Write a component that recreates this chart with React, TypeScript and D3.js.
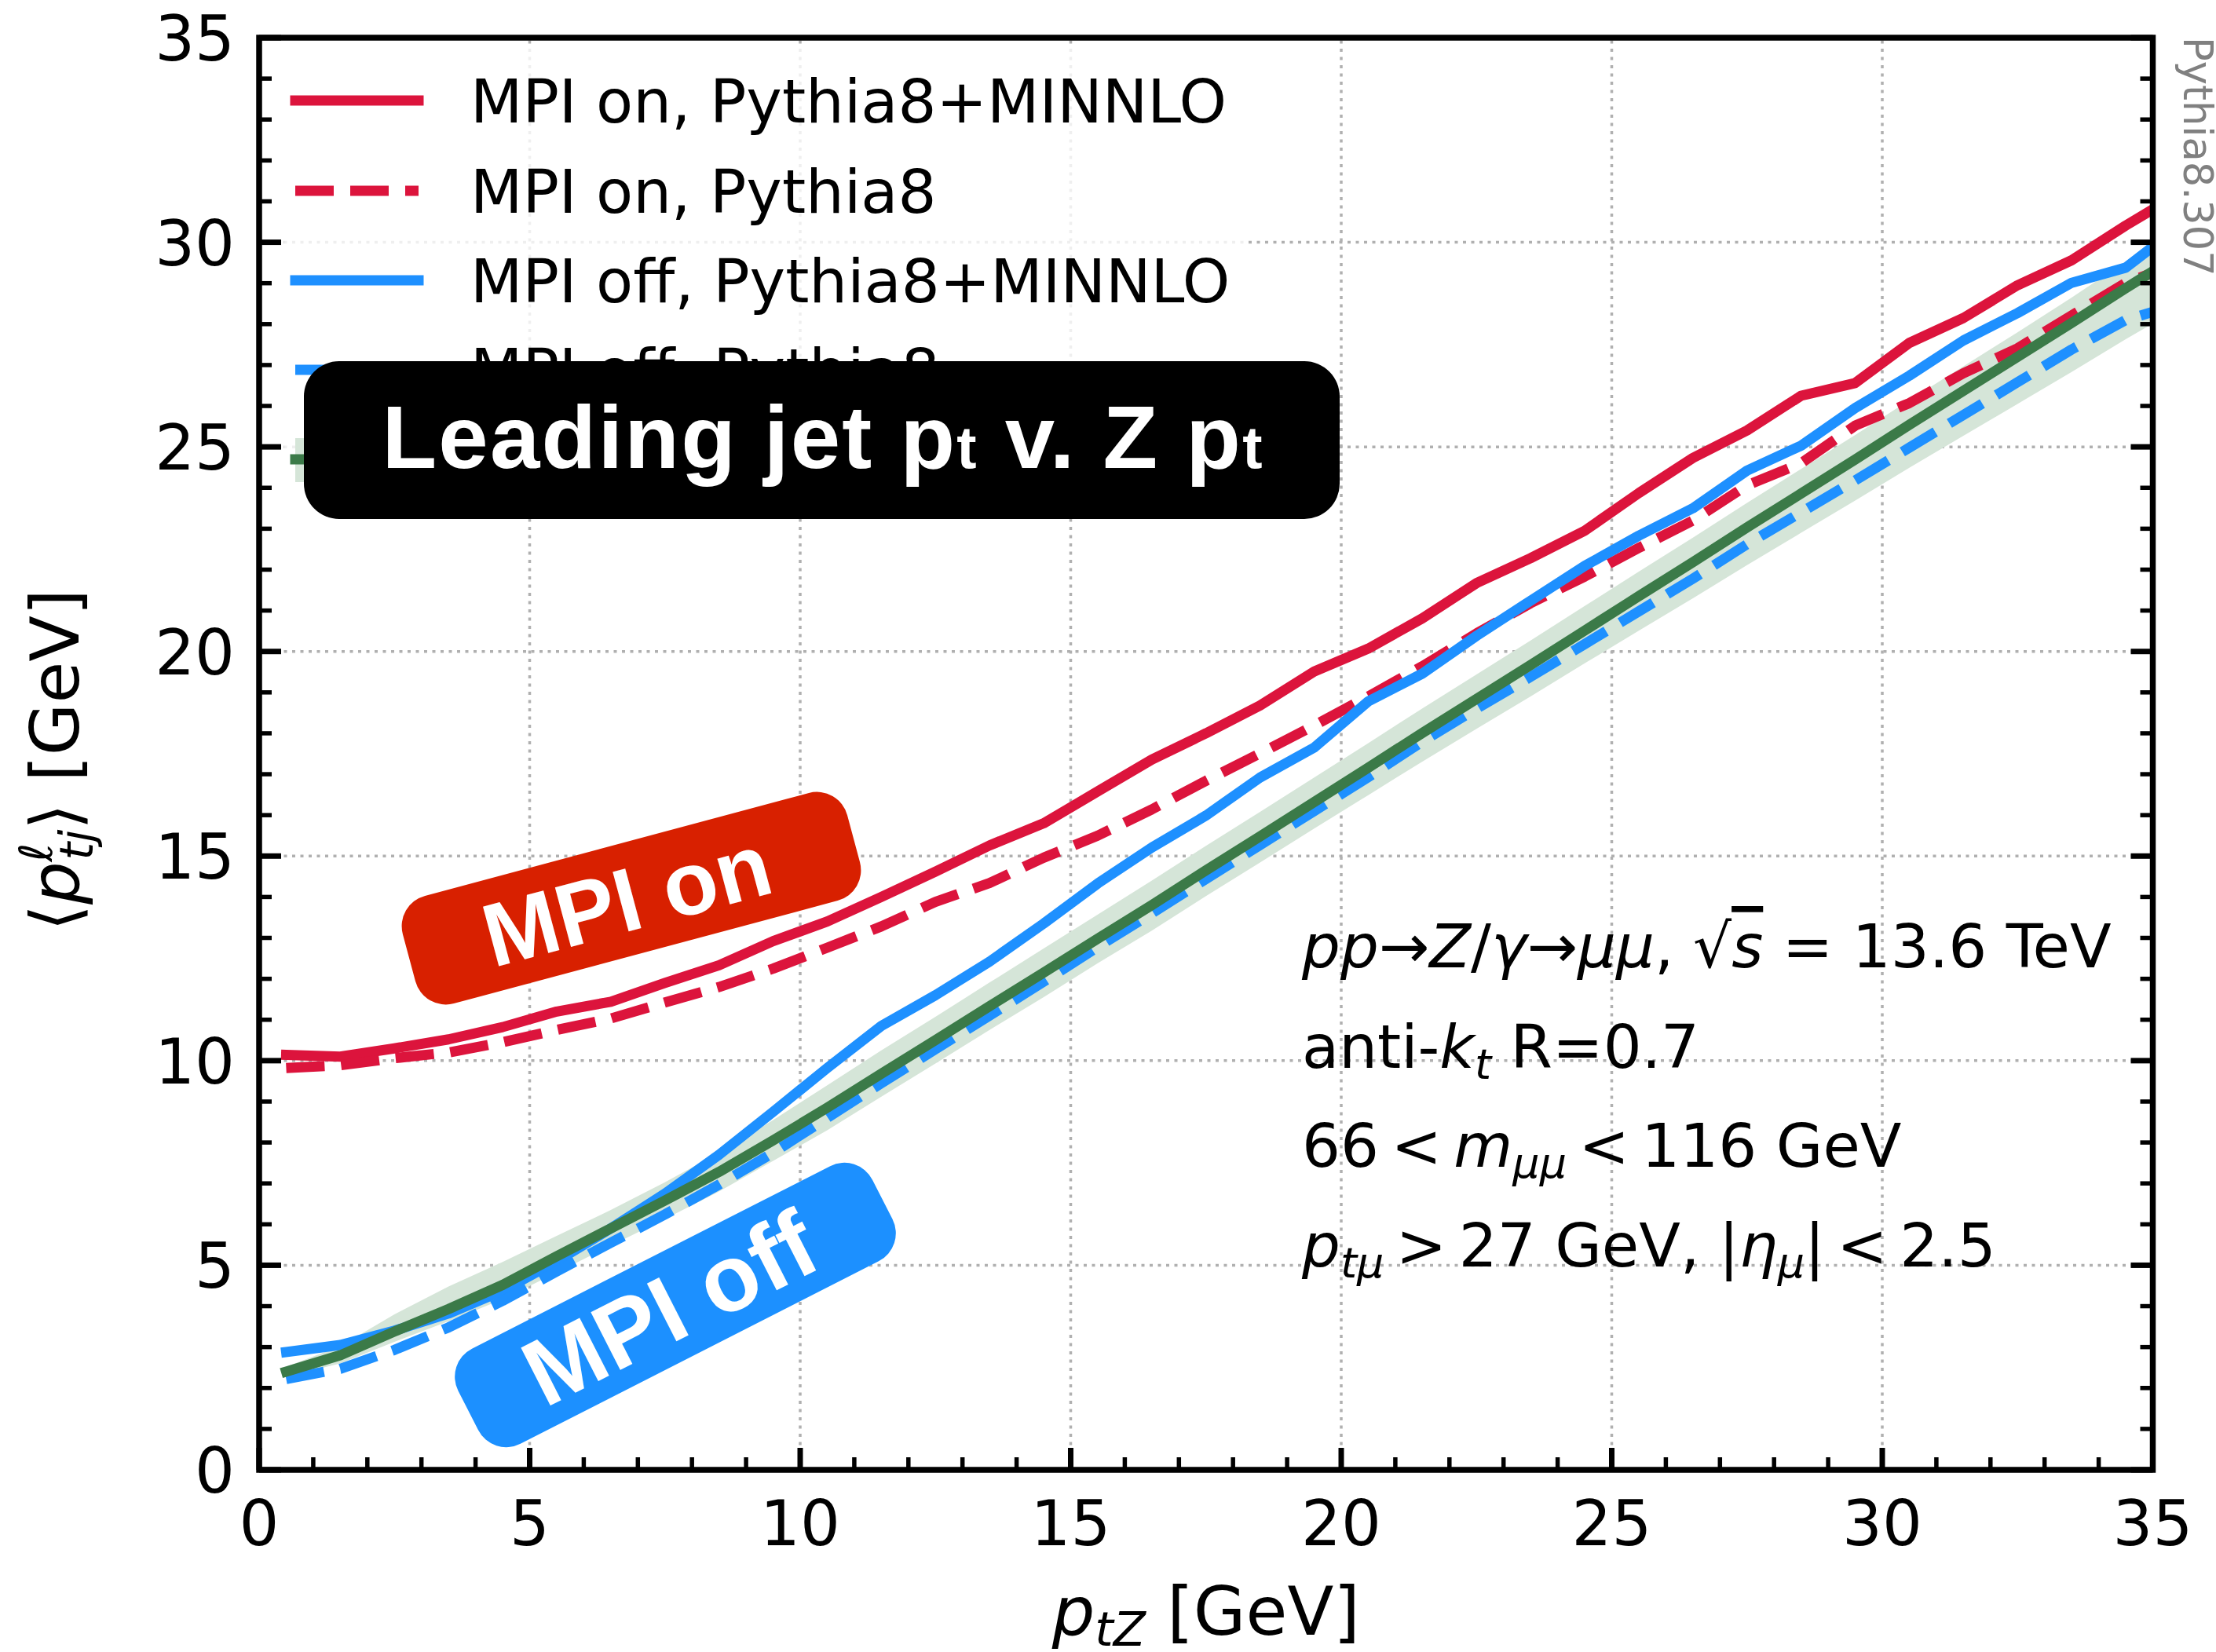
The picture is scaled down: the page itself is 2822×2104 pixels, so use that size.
import * as d3 from "d3";

// bin centres of the Z pt histogram (last one runs past the frame and gets clipped)
const ptZ = [0.5, 1.5, 2.5, 3.5, 4.5, 5.5, 6.5, 7.5, 8.5, 9.5, 10.5, 11.5, 12.5, 13.5, 14.5, 15.5, 16.5, 17.5,
    18.5, 19.5, 20.5, 21.5, 22.5, 23.5, 24.5, 25.5, 26.5, 27.5, 28.5, 29.5, 30.5, 31.5, 32.5, 33.5, 34.5, 35.5];

const mpiOnMinnlo = [10.14, 10.10, 10.30, 10.52, 10.82, 11.20, 11.44, 11.90, 12.33, 12.92, 13.40, 14.00, 14.62, 15.26,
    15.80, 16.58, 17.36, 18.00, 18.68, 19.51, 20.07, 20.81, 21.67, 22.28, 22.95, 23.87, 24.73, 25.40, 26.25, 26.56,
    27.54, 28.15, 28.95, 29.56, 30.41, 31.20];

const mpiOnPythia = [9.82, 9.89, 10.06, 10.20, 10.45, 10.75, 11.03, 11.42, 11.80, 12.25, 12.76, 13.28, 13.88, 14.34,
    14.96, 15.50, 16.14, 16.84, 17.51, 18.19, 18.90, 19.64, 20.44, 21.18, 21.83, 22.53, 23.20, 24.06, 24.60, 25.52,
    26.07, 26.80, 27.41, 28.21, 29.01, 29.50];

const mpiOffMinnlo = [2.88, 3.05, 3.40, 3.82, 4.38, 5.10, 5.90, 6.75, 7.70, 8.75, 9.82, 10.85, 11.60, 12.42, 13.35,
    14.33, 15.21, 15.99, 16.92, 17.65, 18.78, 19.46, 20.38, 21.24, 22.09, 22.83, 23.50, 24.42, 25.03, 25.95, 26.74,
    27.60, 28.27, 29.01, 29.38, 30.40];

const mpiOffPythia = [2.22, 2.47, 2.93, 3.48, 4.13, 4.85, 5.55, 6.24, 6.97, 7.75, 8.60, 9.45, 10.28, 11.10, 11.93,
    12.78, 13.60, 14.44, 15.27, 16.10, 16.93, 17.80, 18.60, 19.38, 20.18, 20.98, 21.78, 22.62, 23.40, 24.18, 24.98,
    25.78, 26.58, 27.38, 28.10, 28.50];

const greenCentral = [2.40, 2.80, 3.38, 3.93, 4.52, 5.22, 5.90, 6.58, 7.28, 8.05, 8.85, 9.68, 10.50, 11.33, 12.15,
    12.98, 13.80, 14.65, 15.48, 16.32, 17.16, 18.01, 18.84, 19.67, 20.51, 21.35, 22.18, 23.03, 23.86, 24.69, 25.54,
    26.37, 27.20, 28.03, 28.88, 29.70];

const bandLow = [2.28, 2.60, 3.13, 3.63, 4.17, 4.82, 5.48, 6.13, 6.80, 7.55, 8.30, 9.12, 9.93, 10.75, 11.55, 12.38,
    13.18, 14.02, 14.84, 15.67, 16.49, 17.31, 18.11, 18.90, 19.71, 20.51, 21.30, 22.11, 22.90, 23.69, 24.49, 25.27,
    26.05, 26.83, 27.63, 28.40];

const bandHigh = [2.52, 3.02, 3.80, 4.48, 5.08, 5.72, 6.35, 7.03, 7.75, 8.55, 9.40, 10.25, 11.07, 11.91, 12.74, 13.57,
    14.40, 15.25, 16.08, 16.92, 17.76, 18.61, 19.44, 20.27, 21.11, 21.95, 22.78, 23.63, 24.46, 25.29, 26.14, 26.97,
    27.80, 28.65, 29.53, 30.40];

const majorTicks = [0, 5, 10, 15, 20, 25, 30, 35];
const gridTicks = [5, 10, 15, 20, 25, 30];
const minorTicks = d3.range(0, 36).filter(v => v % 5 !== 0);

const legendLabels = ["MPI on, Pythia8+MINNLO", "MPI on, Pythia8", "MPI off, Pythia8+MINNLO", "MPI off, Pythia8"];

const RED = "#dc143c";
const BLUE = "#1e90ff";
const GREEN = "#3b7a48";
const BAND = "#d5e5d8";
const FONT = "DejaVu Sans";
const BOLD = "Liberation Sans, Arial, sans-serif";

export default function App() {
    const width = 2822;
    const height = 2104;

    // рамка графика
    const x = d3.scaleLinear().domain([0, 35]).range([330, 2741.5]);
    const y = d3.scaleLinear().domain([0, 35]).range([1872, 48]);

    const line = d3.line<number>().x((_, i) => x(ptZ[i])).y(d => y(d));
    const band = d3.area<number>()
        .x((_, i) => x(ptZ[i]))
        .y0((_, i) => y(bandLow[i]))
        .y1(d => y(d));

    const lw = 13;
    const dash = "49,21";

    const series = [
        { values: mpiOnMinnlo, color: RED, dashed: false },
        { values: mpiOnPythia, color: RED, dashed: true },
        { values: mpiOffMinnlo, color: BLUE, dashed: false },
        { values: mpiOffPythia, color: BLUE, dashed: true },
    ];

    const x0 = x(0), x1 = x(35), y0 = y(0), y1 = y(35);

    const legendY = [128, 243, 357, 471];

    return (
        <svg width={width} height={height} style={{ position: "absolute", left: 0, top: 0, background: "#fff" }}
            fontFamily={FONT}>
            <defs>
                <clipPath id="plot">
                    <rect x={x0} y={y1} width={x1 - x0} height={y0 - y1} />
                </clipPath>
            </defs>

            {/* сетка */}
            <g stroke="#b0b0b0" strokeWidth={3.5} strokeDasharray="4,6.5">
                {gridTicks.map(v => (
                    <line key={"gx" + v} x1={x(v)} x2={x(v)} y1={y0} y2={y1} />
                ))}
                {gridTicks.map(v => (
                    <line key={"gy" + v} x1={x0} x2={x1} y1={y(v)} y2={y(v)} />
                ))}
            </g>

            <g clipPath="url(#plot)">
                <path d={band(bandHigh) || ""} fill={BAND} />
                {series.map((s, i) => (
                    <path key={i} d={line(s.values) || ""} fill="none" stroke={s.color} strokeWidth={lw}
                        strokeLinejoin="round" strokeLinecap={s.dashed ? "butt" : "square"}
                        strokeDasharray={s.dashed ? dash : undefined} />
                ))}
                <path d={line(greenCentral) || ""} fill="none" stroke={GREEN} strokeWidth={lw}
                    strokeLinejoin="round" strokeLinecap="square" />
            </g>

            {/* оси и засечки */}
            <g stroke="#000">
                {majorTicks.map(v => (
                    <g key={"mt" + v} strokeWidth={7}>
                        <line x1={x0} x2={x0 + 28} y1={y(v)} y2={y(v)} />
                        <line x1={x1} x2={x1 - 28} y1={y(v)} y2={y(v)} />
                        <line x1={x(v)} x2={x(v)} y1={y0} y2={y0 - 28} />
                    </g>
                ))}
                {minorTicks.map(v => (
                    <g key={"nt" + v} strokeWidth={5.5}>
                        <line x1={x0} x2={x0 + 16} y1={y(v)} y2={y(v)} />
                        <line x1={x1} x2={x1 - 16} y1={y(v)} y2={y(v)} />
                        <line x1={x(v)} x2={x(v)} y1={y0} y2={y0 - 16} />
                    </g>
                ))}
                <rect x={x0} y={y1} width={x1 - x0} height={y0 - y1} fill="none" strokeWidth={7.5} />
            </g>

            <g fontSize={80} fill="#000">
                {majorTicks.map(v => (
                    <text key={"yl" + v} x={299} y={y(v) + 29} textAnchor="end">{v}</text>
                ))}
                {majorTicks.map(v => (
                    <text key={"xl" + v} x={x(v)} y={1968} textAnchor="middle">{v}</text>
                ))}
            </g>

            {/* подписи осей */}
            <text x={(x0 + x1) / 2} y={2082} fontSize={86} textAnchor="middle">
                <tspan fontStyle="italic">p</tspan>
                <tspan fontSize={60} fontStyle="italic" dy={14}>tZ</tspan>
                <tspan dy={-14}> [GeV]</tspan>
            </text>
            <text transform="translate(100,968) rotate(-90)" fontSize={86} textAnchor="middle">
                <tspan>⟨</tspan>
                <tspan fontStyle="italic">p</tspan>
                <tspan fontSize={58} fontStyle="italic" dy={-34}>ℓ</tspan>
                <tspan fontSize={58} fontStyle="italic" dx={-22} dy={52}>tj</tspan>
                <tspan dy={-18}>⟩ [GeV]</tspan>
            </text>

            <text transform="translate(2781,47) rotate(90)" fontSize={51} fill="#808080">Pythia8.307</text>

            {/* легенда */}
            <rect x={362} y={62} width={1224} height={575} rx={12} fill="#fff" fillOpacity={0.8} />
            {series.map((s, i) => (
                <g key={"lg" + i}>
                    <line x1={376} x2={533} y1={legendY[i]} y2={legendY[i]} stroke={s.color}
                        strokeWidth={lw} strokeLinecap={s.dashed ? "butt" : "square"}
                        strokeDasharray={s.dashed ? dash : undefined} />
                    <text x={599} y={legendY[i] + 28} fontSize={77}>{legendLabels[i]}</text>
                </g>
            ))}
            <rect x={376} y={558} width={157} height={56} fill={BAND} />
            <line x1={376} x2={533} y1={585} y2={585} stroke={GREEN} strokeWidth={lw} strokeLinecap="square" />

            {/* заголовок */}
            <rect x={387} y={460} width={1319} height={201} rx={45} fill="#000" />
            <text x={1047} y={596} fontSize={114} fontWeight="bold" fill="#fff" textAnchor="middle"
                fontFamily={BOLD} textLength={1121} lengthAdjust="spacing">
                Leading jet p<tspan fontSize={76}>t</tspan> v. Z p<tspan fontSize={76}>t</tspan>
            </text>

            {/* метки MPI on / off */}
            <g transform="translate(804,1144) rotate(-15)">
                <rect x={-293} y={-71} width={586} height={142} rx={40} fill="#d82000" />
                <text x={-6} y={40} fontSize={114} fontWeight="bold" fill="#fff" textAnchor="middle"
                    fontFamily={BOLD}>MPI on</text>
            </g>
            <g transform="translate(860,1662) rotate(-27)">
                <rect x={-296} y={-68} width={592} height={136} rx={40} fill="#1c90ff" />
                <text x={-8} y={42} fontSize={120} fontWeight="bold" fill="#fff" textAnchor="middle"
                    fontFamily={BOLD}>MPI off</text>
            </g>

            {/* описание процесса */}
            <g fontSize={77} fill="#000">
                <text x={1658} y={1232}>
                    <tspan fontStyle="italic">pp</tspan>→<tspan fontStyle="italic">Z</tspan>/<tspan
                        fontStyle="italic">γ</tspan>→<tspan fontStyle="italic">μμ</tspan>, √<tspan
                        fontStyle="italic" style={{ textDecoration: "overline" }}>s</tspan> = 13.6 TeV
                </text>
                <text x={1658} y={1360}>
                    anti-<tspan fontStyle="italic">k</tspan><tspan fontSize={54} fontStyle="italic"
                        dy={14}>t</tspan><tspan dy={-14}> R=0.7</tspan>
                </text>
                <text x={1658} y={1486}>
                    66{"\u2009"}&lt;{"\u2009"}<tspan fontStyle="italic">m</tspan><tspan fontSize={54} fontStyle="italic"
                        dy={14}>μμ</tspan><tspan dy={-14}>{"\u2009"}&lt;{"\u2009"}116 GeV</tspan>
                </text>
                <text x={1658} y={1613}>
                    <tspan fontStyle="italic">p</tspan><tspan fontSize={54} fontStyle="italic"
                        dy={14}>tμ</tspan><tspan dy={-14}>{"\u2009"}&gt;{"\u2009"}27 GeV, |</tspan><tspan
                        fontStyle="italic">η</tspan><tspan fontSize={54} fontStyle="italic"
                        dy={14}>μ</tspan><tspan dy={-14}>|{"\u2009"}&lt;{"\u2009"}2.5</tspan>
                </text>
            </g>
        </svg>
    );
}
